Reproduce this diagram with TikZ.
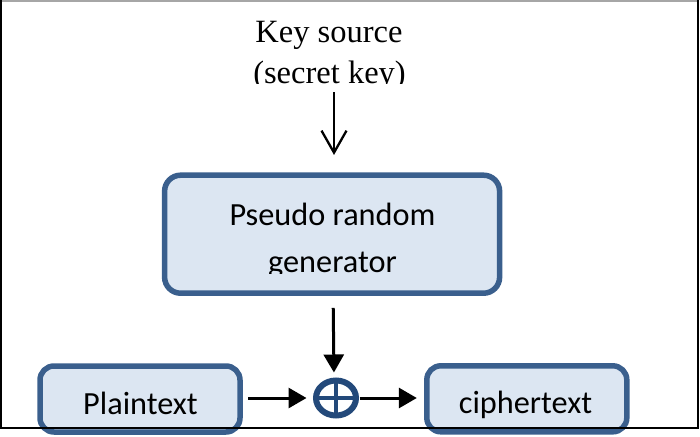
\documentclass[tikz,border=0pt]{standalone}
\usepackage{fontspec}
\setmainfont{Liberation Serif}
\newfontfamily\calibrifont{Carlito}
\usetikzlibrary{arrows.meta,shapes.geometric}
\definecolor{boxborder}{HTML}{3A5F8D}
\definecolor{boxfill}{HTML}{DCE6F2}
\definecolor{xorblue}{HTML}{23497A}
\tikzset{
  boxnode/.style={draw=boxborder, fill=boxfill, line width=5.5pt, rounded corners=16pt, inner sep=0pt},
  labeltext/.style={inner sep=0pt, anchor=base, font=\calibrifont\fontsize{32.3}{38}\selectfont},
  seriftext/.style={inner sep=0pt, anchor=base, font=\fontsize{32.5}{39}\selectfont},
  fillarrow/.style={line width=3pt, -{Triangle[length=18pt,width=20pt]}},
  openarrow/.style={line width=2.3pt, -{Straight Barb[length=22pt,width=25pt,line width=2.3pt]}},
  xornode/.style={ellipse, draw=xorblue, line width=6pt, minimum width=40pt, minimum height=35pt, inner sep=0pt,
    path picture={\draw[xorblue, line width=4.5pt]
      (path picture bounding box.north) -- (path picture bounding box.south)
      (path picture bounding box.west) -- (path picture bounding box.east);}}
}
\begin{document}
\begin{tikzpicture}[x=1pt,y=-1pt]
\useasboundingbox (0,0) rectangle (700,436);
% boxes
\node[boxnode, minimum width=335pt, minimum height=118pt] (prg) at (332.1,234.2) {};
\node[boxnode, minimum width=200pt, minimum height=66pt, rounded corners=14pt] (plain) at (140,399) {};
\node[boxnode, minimum width=200pt, minimum height=66pt, rounded corners=14pt] (cipher) at (526.8,398.8) {};
\node[xornode] (oplus) at (336,398) {};
% texts
\node[seriftext] (key1) at (329,42) {Key source};
\begin{scope}
  \clip (200,50) rectangle (460,83.5);
  \node[seriftext] (key2) at (329.5,83) {(secret key)};
\end{scope}
\node[labeltext] (prg1) at (332.5,225) {Pseudo random};
\begin{scope}
  \clip (170,235) rectangle (495,273);
  \node[labeltext] (prg2) at (332.5,272) {generator};
\end{scope}
\node[labeltext] (plaintxt) at (140.5,414) {Plaintext};
\node[labeltext] (ciphertxt) at (525.5,413) {ciphertext};
% connectors
\coordinate (kstart) at (334,92);
\draw[openarrow, shorten >=17.5pt] (kstart) -- (kstart |- prg.north);
\draw[fillarrow, shorten <=12pt, shorten >=5pt] ([xshift=1pt]prg.south) -- ([xshift=-2pt]oplus.north);
\draw[fillarrow, shorten <=5.25pt, shorten >=6.5pt] (oplus.west -| plain.east) -- (oplus.west);
\draw[fillarrow, shorten <=0.5pt, shorten >=7.25pt] (oplus.east) -- (oplus.east -| cipher.west);
% frame
\draw[gray!70, line width=1.5pt] (0,1) -- (698,1);
\draw[black, line width=2pt] (1,0) -- (1,428) -- (697.5,428) -- (697.5,0);
\end{tikzpicture}
\end{document}
